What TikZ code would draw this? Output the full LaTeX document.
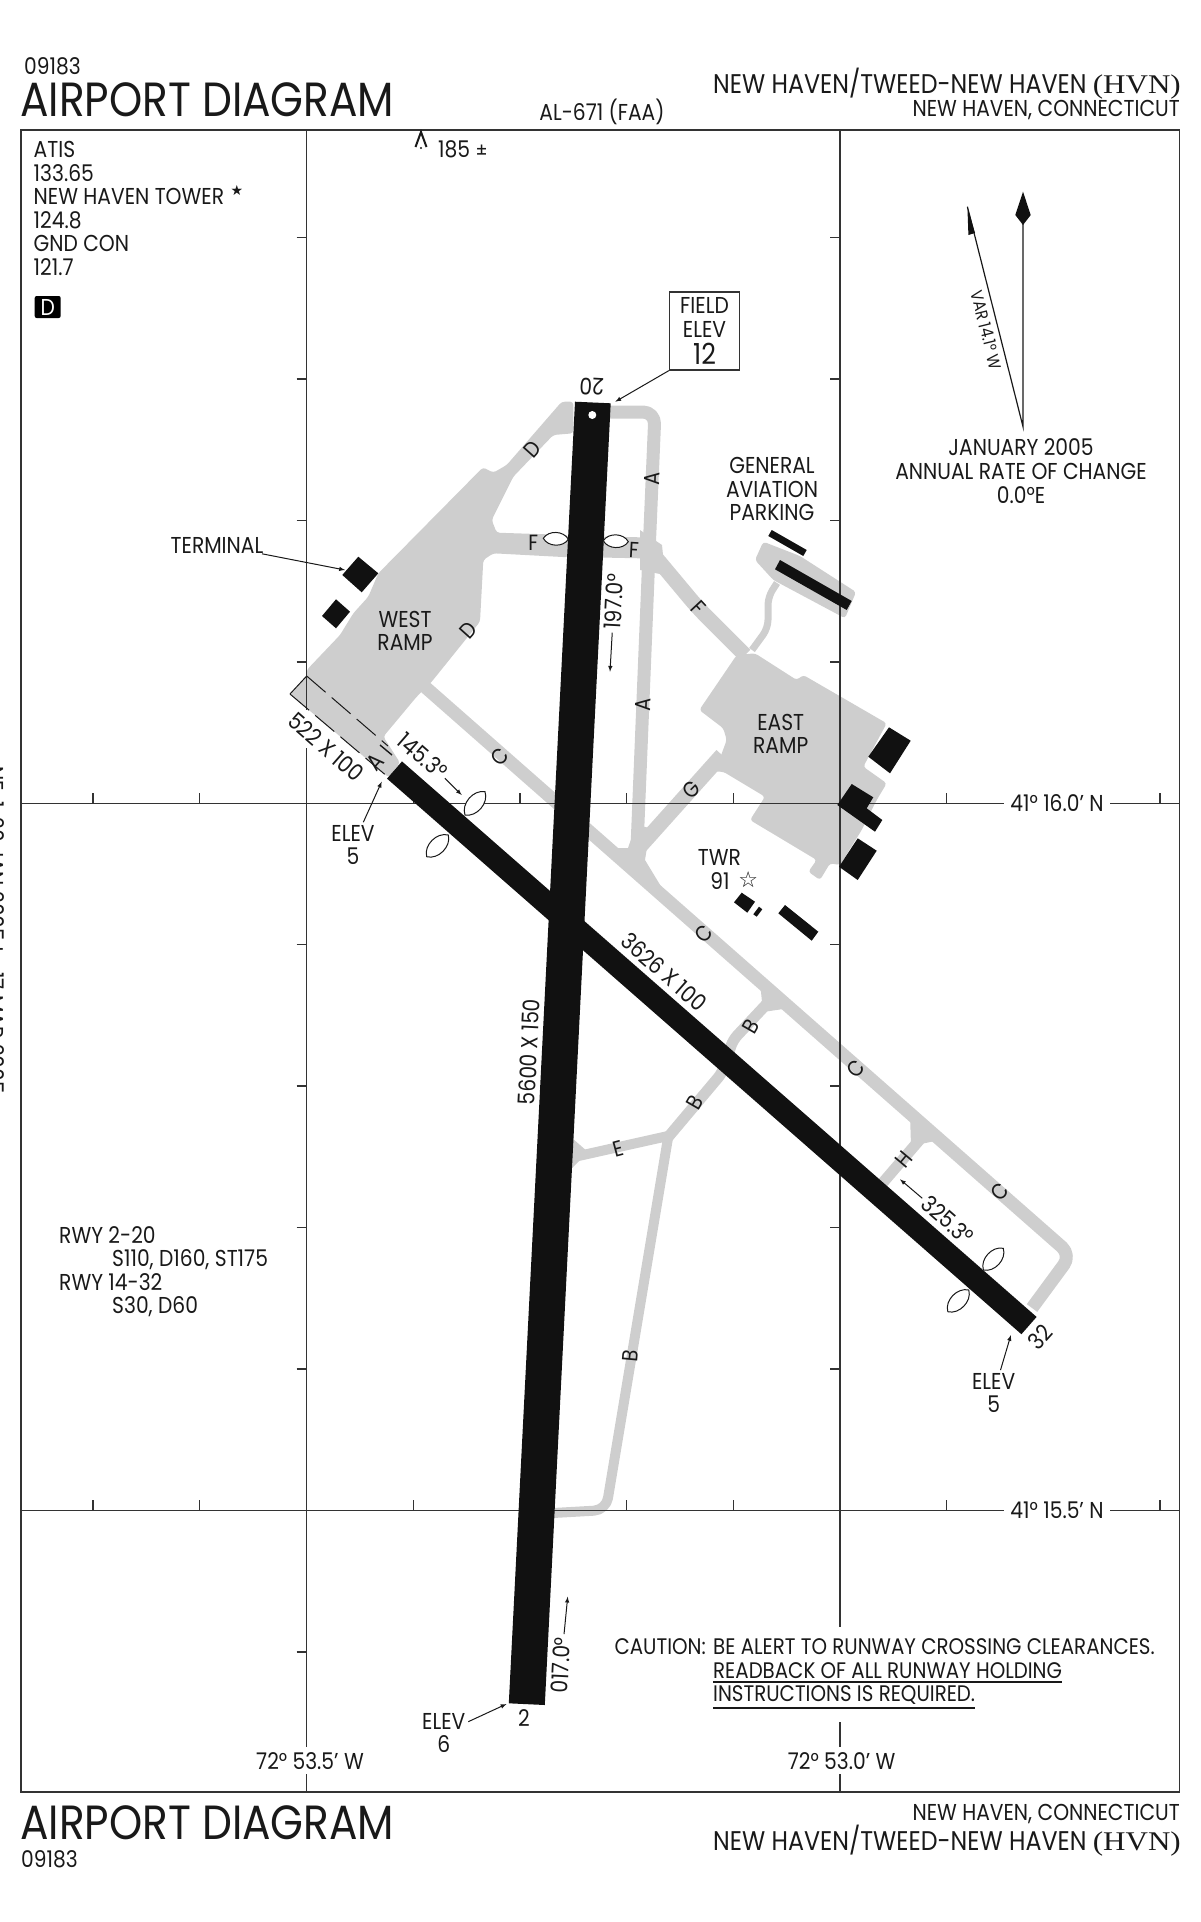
\documentclass[tikz,border=0pt]{standalone}
\usepackage{fontspec}
\setmainfont{Poppins}[FakeStretch=0.88]
\newfontfamily\hvnfont{Liberation Serif}[FakeStretch=1.15]
\newfontfamily\symfont{DejaVu Sans}
\usetikzlibrary{arrows,positioning}

\definecolor{rampgray}{HTML}{CECECE}
\definecolor{rwyblack}{HTML}{111111}
\definecolor{gridgray}{HTML}{333333}

\tikzset{
  lab/.style={inner sep=0pt,align=center,text=black!90,font=\fontsize{23}{23.6}\selectfont},
  bigtitle/.style={lab,anchor=west,font=\fontsize{48}{50}\selectfont},
  subtitle/.style={lab,anchor=east,font=\fontsize{27}{29}\selectfont},
  notetext/.style={lab,anchor=west,font=\fontsize{22.5}{23.6}\selectfont},
  taxi/.style={draw=rampgray,line width=13pt,line join=round,rounded corners=12pt},
  ramp/.style={fill=rampgray,rounded corners=3pt},
  rwy/.style={fill=rwyblack},
  grid/.style={draw=gridgray,line width=1.3pt},
  callout/.style={-latex,draw=black!90,line width=1pt,shorten <=3pt},
  holdleaf/.style={draw=black!90,fill=white,line width=1pt}
}

\begin{document}
\begin{tikzpicture}[x=1pt,y=-1pt]
\useasboundingbox (0,0) rectangle (1200,1922);

% ramps and taxiways
\fill[ramp] (561.7,401.7) -- (506.7,465) -- (493.3,472.7) -- (483,467.3) -- (378.3,573.3) -- (368.3,596.7) -- (353.3,613.3) -- (340,635) -- (306.7,670) -- (306.7,676) -- (290,694) -- (388.3,777.3) -- (400,762.7) -- (383.3,736.7) -- (416.7,696.7) -- (431.7,681.7) -- (480,621.7) -- (483.3,560) -- (493.3,553.3) -- (568.3,557.3) -- (568.3,535) -- (496.7,532.7) -- (491.7,520) -- (513.3,476.7) -- (553.3,435) -- (573.3,433.3) -- (573.3,401.7) -- cycle;
\fill[ramp] (736.7,655) -- (755,653.3) -- (796.7,680) -- (803.3,675) -- (886.7,723.3) -- (863.3,766.7) -- (886.7,783.3) -- (876.7,800) -- (861.7,830) -- (840,865) -- (830,863.3) -- (820,880) -- (808.3,871.7) -- (816.7,860) -- (750,820) -- (765,796.7) -- (723.3,771.7) -- (715,771.7) -- (726.7,740) -- (723.3,728.3) -- (699.3,710) -- cycle;
\fill[ramp] (763.3,541.7) -- (755,560) -- (773.3,580) -- (845,618.3) -- (856,592) -- (800,556) -- cycle;
\draw[taxi] (605,412) -- (655,412) -- (649,553) -- (636,872);
\draw[taxi,line width=21pt,rounded corners=0pt] (600,547) -- (650,548);
\draw[taxi,line width=15pt] (652,553) -- (698,608) -- (745,655);
\draw[taxi,line width=15pt] (722,755) -- (628,860);
\draw[taxi] (424,686) -- (1071,1255) -- (1032,1308);
\draw[taxi,line width=7pt,rounded corners=8pt] (752,650) -- (768,628) -- (768,597) -- (777,583);
\draw[taxi,line width=10pt] (668,1138) -- (606,1510) -- (553,1513);
\draw[taxi,line width=10pt] (574,1157) -- (668,1136);
\draw[taxi,line width=11pt,rounded corners=6pt] (664,1142) -- (722,1073) -- (733,1040) -- (776,994);
\draw[taxi,line width=11pt,rounded corners=0pt] (880,1186) -- (928,1130);
\fill[rampgray] (760,982) -- (790,1008) -- (763,1012) -- cycle;
\fill[rampgray] (910,1114) -- (940,1140) -- (911,1146) -- cycle;
\fill[rampgray] (572,1138) -- (588,1152) -- (572,1168) -- cycle;
\fill[rampgray] (636,825) -- (650,828) -- (645,860) -- (668,898) -- (610,848) -- (628,848) -- cycle;
\fill[rampgray] (640,530) -- (662,545) -- (665,575) -- (640,570) -- cycle;

% chart grid
\draw[grid,line width=1.6pt] (21,130) rectangle (1179.5,1792);
\draw[grid] (306.5,130) -- (306.5,710);
\draw[grid] (306.5,748) -- (306.5,1792);
\draw[grid] (840,130) -- (840,1627);
\draw[grid] (840,1722) -- (840,1792);
\foreach \ytick in {803.3,1510.3}
  \draw[grid] (21,\ytick) -- (1179.5,\ytick);
\foreach \xline in {306.5,840}
  \foreach \ytick in {237.7,379,520.6,662,944.7,1086,1227.5,1369}
    \draw[grid] (\xline-10,\ytick) -- (\xline,\ytick);
\draw[grid] (296.5,1652) -- (306.5,1652);
\foreach \yline in {803.3,1510.3}
  \foreach \xtick in {93,199.8,413.2,519.9,626.6,733.3,946.7,1160}
    \draw[grid] (\xtick,\yline-10) -- (\xtick,\yline);

\node[lab,fill=white,inner xsep=6pt,inner ysep=2pt] (lat1) at (1057,803.3) {41° 16.0' N};
\node[lab,fill=white,inner xsep=6pt,inner ysep=2pt] (lat2) at (1057,1510.3) {41° 15.5' N};
\node[lab,fill=white,inner xsep=6pt,inner ysep=5pt] (lon1) at (310,1760.7) {72° 53.5' W};
\node[lab,fill=white,inner xsep=6pt,inner ysep=5pt] (lon2) at (841.6,1760.7) {72° 53.0' W};

% displaced area at the 14 end
\draw[black!90,line width=1pt] (306.7,676) -- (290,694);
\draw[black!90,line width=1pt,dash pattern=on 25pt off 8pt] (306.7,676) -- (388,746);
\draw[black!90,line width=1pt,dash pattern=on 25pt off 8pt] (290,694) -- (388.3,777.3);
\draw[black!90,line width=1.4pt] (380,745) -- (392,755);
\node[lab,rotate=48] (twa0) at (375,761.7) {A};

% runways
\fill[rwy] (575,401.7) -- (610.7,403.3) -- (544.8,1705) -- (508.8,1703.3) -- cycle;
\fill[rwy] (402,761.4) -- (1036.6,1316.9) -- (1021.4,1334.2) -- (387,778.6) -- cycle;
\fill[white] (592.3,415) circle (4pt);

% buildings
\fill[rwy] (358.3,556.7) -- (378.3,573.3) -- (361.7,592.3) -- (342.3,575) -- cycle;
\fill[rwy] (336,599.3) -- (350,611.7) -- (336,628.3) -- (322,616) -- cycle;
\fill[rwy] (771.7,530) -- (806.7,550) -- (803.3,556) -- (768.3,536) -- cycle;
\fill[rwy] (780,560) -- (851.7,601) -- (846.7,610) -- (775,569.3) -- cycle;
\fill[rwy] (889,727.3) -- (910.7,740.7) -- (890,773.3) -- (868.3,756.7) -- cycle;
\fill[rwy] (851.7,784) -- (873.3,797.3) -- (866.7,808.3) -- (882.3,820) -- (875,831.7) -- (837.3,805) -- cycle;
\fill[rwy] (857.7,838.3) -- (876.7,850.7) -- (857.7,880) -- (839,866.7) -- cycle;
\fill[rwy] (741.7,892.7) -- (755,901.7) -- (747.3,912.7) -- (734,902.3) -- cycle;
\fill[rwy] (759,906.7) -- (762.3,909.3) -- (756.7,916.7) -- (753.3,914.3) -- cycle;
\fill[rwy] (785,905) -- (818.3,931.7) -- (811.7,940.7) -- (778.3,913.3) -- cycle;

% hold short marks
\foreach \xa/\ya/\xb/\yb in {543.3/538.3/568.3/539.3,603.3/540.7/628.3/541.7,465/815/485/791.7,448.3/835/426.7/856.7,983.4/1270/1003.3/1248.3,968.8/1290/947.8/1311.7}
  \draw[holdleaf] (\xa,\ya) to[bend left=60] (\xb,\yb) to[bend left=60] (\xa,\ya) -- cycle;

% taxiway letters
\def\twy{d1/532.7/449/48/D,d2/468.3/630/48/D,f1/533.3/543.3/0/F,f2/634/550/-3/F,a1/651.7/478.3/88/A,a2/642.7/705/88/A,f3/698.3/608.3/-47/F,c1/500/756.7/48/C,g1/691.7/790/45/G,c2/703.3/933.3/48/C,c3/856/1068.3/48/C,c4/999.4/1191.7/48/C,b1/750.7/1026.7/60/B,b2/695/1102.7/60/B,e1/617.9/1149/15/E,h1/903.7/1159.3/50/H,b3/630/1356/85/B}
\foreach \nm/\xa/\ya/\ang/\element in \twy
  \node[lab,rotate=\ang,font=\fontsize{22}{22}\selectfont] (tw\nm) at (\xa,\ya) {\element};

\node[lab] (westramp) at (405,631) {WEST\\RAMP};
\node[lab] (eastramp) at (780.7,734) {EAST\\RAMP};

% header and footer
\node[lab,anchor=west] (idtop) at (24,66.7) {09183};
\node[bigtitle] (titletop) at (20,100) {AIRPORT DIAGRAM};
\node[lab] (alnum) at (602,111.7) {AL-671 (FAA)};
\node[subtitle] (apttop) at (1181,83.3) {NEW HAVEN/TWEED-NEW HAVEN {\hvnfont(HVN)}};
\node[lab,anchor=east] (citytop) at (1180,110) {NEW HAVEN, CONNECTICUT};
\node[bigtitle] (titlebot) at (20,1822.7) {AIRPORT DIAGRAM};
\node[lab,anchor=west] (idbot) at (21,1859) {09183};
\node[lab,anchor=east] (citybot) at (1180,1814) {NEW HAVEN, CONNECTICUT};
\node[subtitle] (aptbot) at (1181,1840.7) {NEW HAVEN/TWEED-NEW HAVEN {\hvnfont(HVN)}};
\node[lab,rotate=-90] (margin) at (-5.5,930) {NE-1, 20 JAN 2005 to 17 MAR 2005};

% communications
\node[lab,anchor=north west,align=left] (comm) at (33.5,141) {ATIS\\133.65\\NEW HAVEN TOWER\\124.8\\GND CON\\121.7};
\node[lab,font=\symfont\fontsize{14}{14}\selectfont] (towerstar) at (237,190) {★};
\node[lab,fill=black,text=white,rounded corners=2pt,minimum width=26pt,minimum height=22pt] (atisd) at (47.7,307) {D};
\node[lab,anchor=north west,align=left] (pcn) at (59,1226) {RWY 2-20\\\hspace{53pt}S110, D160, ST175\\RWY 14-32\\\hspace{53pt}S30, D60};

% obstacle
\draw[black!90,line width=2pt] (415.5,147) -- (421,132) -- (426.5,147);
\fill[black!90] (421,148) circle (1.2pt);
\node[lab,anchor=west] (obst) at (438,149.3) {185 {\fontsize{20}{20}\selectfont±}};

% north arrows
\draw[black!90,line width=1.2pt] (1023,215) -- (1023,426.7) -- (967.4,206.7);
\fill[rwyblack] (1023,191.7) -- (1030.7,215) -- (1023,225) -- (1015.3,215) -- cycle;
\fill[rwyblack] (967.4,206.7) -- (968.4,235) -- (975,233) -- cycle;
\node[lab,rotate=-76,font=\fontsize{17}{18}\selectfont] (var) at (986.5,330) {VAR 14.1° W};
\node[lab] (rate) at (1021,471) {JANUARY 2005\\ANNUAL RATE OF CHANGE\\0.0°E};

% field elevation
\node[lab,draw=gridgray,line width=1.2pt,minimum width=70pt,minimum height=78pt] (field) at (704.5,331) {FIELD\\ELEV\\[3pt]{\fontsize{29}{25}\selectfont 12}};
\coordinate (fieldend) at (615.3,401.7);
\draw[callout,shorten <=0pt] (field.south west) -- (fieldend);
\node[lab,rotate=177] (rw20) at (591.7,386.7) {20};

\node[lab] (gaparking) at (772,489) {GENERAL\\AVIATION\\PARKING};
\node[lab] (terminal) at (217,545) {TERMINAL};
\coordinate (termend) at (345,570);
\draw[callout] (terminal) -- (termend);
\node[lab] (twrlab) at (719.3,857.7) {TWR};
\node[lab] (twr91) at (720,881) {91};
\node[lab,font=\symfont\bfseries\fontsize{22}{22}\selectfont] (twrstar) at (748.3,880) {☆};

% runway data
\node[lab,rotate=-41.2] (len14a) at (326,746.7) {522 X 100};
\node[lab,rotate=-41.2] (hdg145) at (422.7,756) {145.3°};
\coordinate (hdg145end) at (461.7,795);
\draw[callout] (hdg145) -- (hdg145end);
\node[lab,rotate=-41.2] (len14) at (664,972) {3626 X 100};
\node[lab,rotate=87] (len02) at (529,1052) {5600 X 150};
\node[lab,rotate=87] (hdg197) at (614,601.7) {197.0°};
\coordinate (hdg197end) at (610,671.7);
\draw[callout] (hdg197) -- (hdg197end);
\node[lab,rotate=-41.2] (hdg325) at (947.8,1220) {325.3°};
\coordinate (hdg325end) at (900,1179.3);
\draw[callout] (hdg325) -- (hdg325end);
\node[lab,rotate=48] (rw32) at (1040,1337) {32};
\node[lab] (rw02) at (524,1718) {2};
\node[lab,rotate=87] (hdg017) at (561,1665) {017.0°};
\coordinate (hdg017end) at (567.7,1596.7);
\draw[callout] (hdg017) -- (hdg017end);

\node[lab] (elev14) at (353,845) {ELEV\\5};
\coordinate (elev14end) at (381.7,781.7);
\draw[callout] (elev14) -- (elev14end);
\node[lab] (elev32) at (993.7,1393) {ELEV\\5};
\coordinate (elev32end) at (1010.9,1335);
\draw[callout] (elev32) -- (elev32end);
\node[lab] (elev02) at (443.8,1733) {ELEV\\6};
\coordinate (elev02end) at (506.5,1704);
\draw[callout] (elev02) -- (elev02end);

% caution note
\node[notetext] (caution) at (614.4,1646.7) {CAUTION:};
\node[notetext] (cautiona) at (713,1646.7) {BE ALERT TO RUNWAY CROSSING CLEARANCES.};
\node[notetext] (cautionb) at (713,1670.7) {READBACK OF ALL RUNWAY HOLDING};
\node[notetext] (cautionc) at (713,1695) {INSTRUCTIONS IS REQUIRED.};
\draw[black!90,line width=2pt] ([yshift=-3pt]cautionb.south west) -- ([yshift=-3pt]cautionb.south east);
\draw[black!90,line width=2pt] ([yshift=-3pt]cautionc.south west) -- ([yshift=-3pt]cautionc.south east);
\end{tikzpicture}
\end{document}
